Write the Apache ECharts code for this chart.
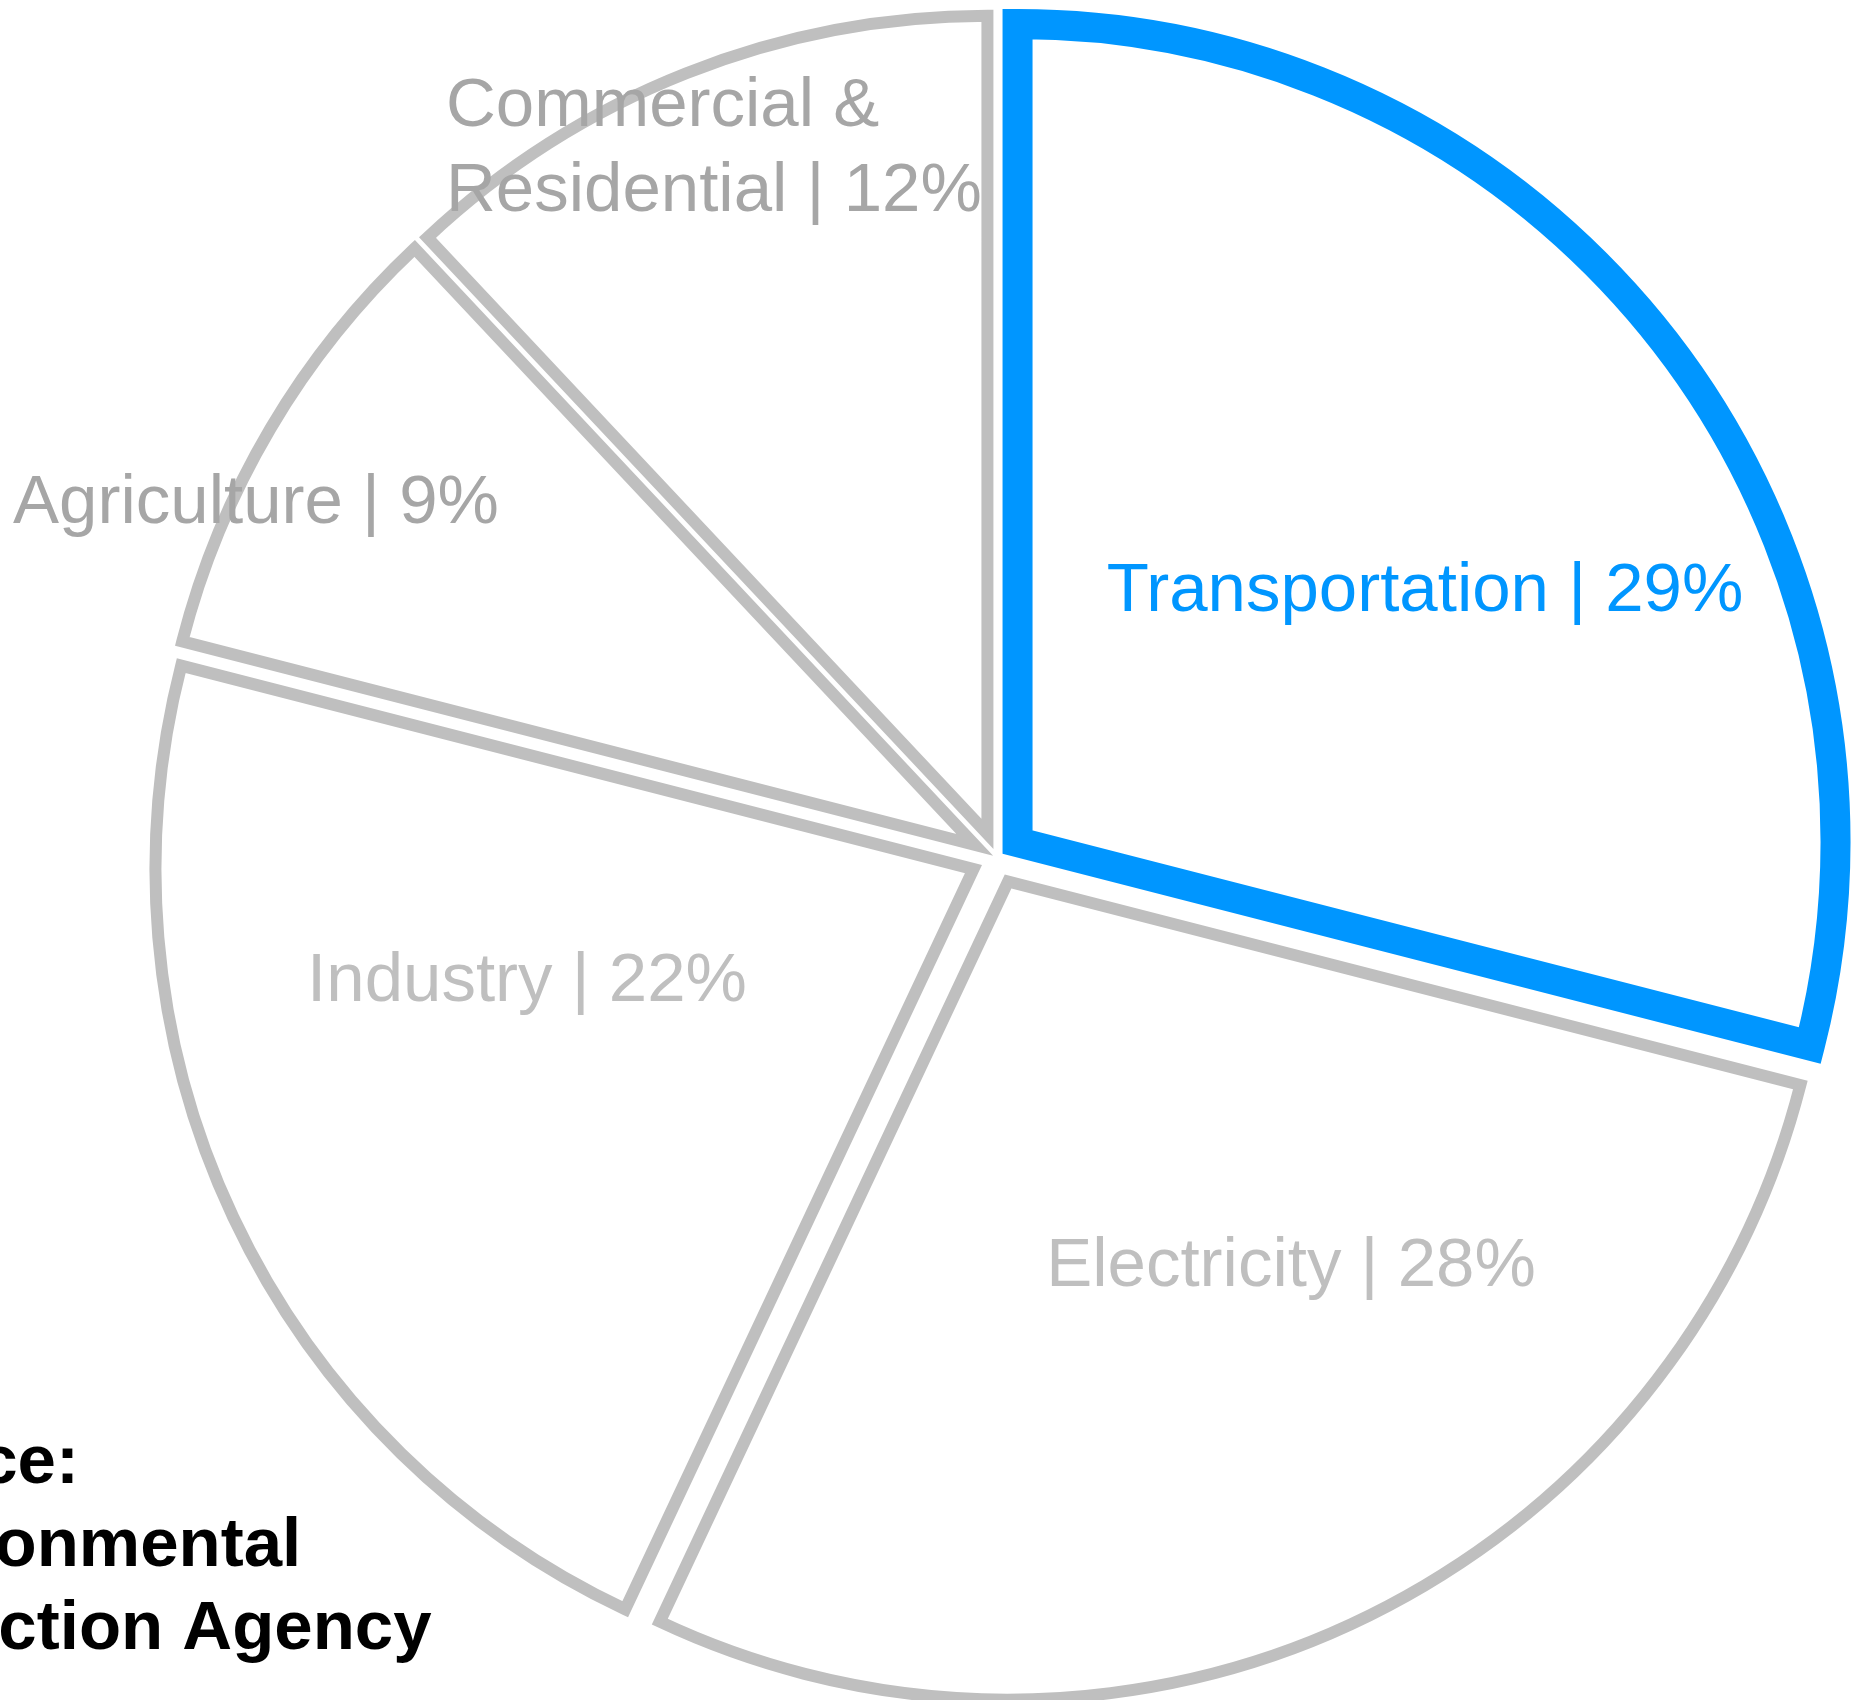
<!DOCTYPE html>
<html>
<head>
<meta charset="utf-8">
<script src="https://cdn.jsdelivr.net/npm/echarts@6/dist/echarts.min.js"></script>
<style>
html,body{margin:0;padding:0;background:#fff;}
#chart{width:1854px;height:1700px;}
</style>
</head>
<body>
<div id="chart"></div>
<script>
// Data
const categories = ['Transportation', 'Electricity', 'Industry', 'Agriculture', 'Commercial &\nResidential'];
const shares = [29, 28, 22, 9, 12];
const sourceText = 'Source:\nEnvironmental\nProtection Agency';

// Styling / layout (not data)
const FONT = 'Arial, "Liberation Sans", Helvetica, sans-serif';
const CX = 997, CY = 858, R = 818;
const BLUE = '#0096FF';
const GRAY = '#BFBFBF';
const strokeColors = [BLUE, GRAY, GRAY, GRAY, GRAY];
const strokeWidths = [30, 12, 12, 12, 12];
const labelColors = [BLUE, '#BFBFBF', '#BFBFBF', '#A6A6A6', '#A6A6A6'];
const labelOffsets = [[428, -266], [294, 409], [-470, 124], [-741, -354], [-551, -709]];
const labelAlign = ['center', 'center', 'center', 'center', 'left'];

const chart = echarts.init(document.getElementById('chart'), null, {renderer: 'canvas'});

const data = categories.map((name, i) => {
  const style = {color: '#FFFFFF', borderColor: strokeColors[i], borderWidth: strokeWidths[i], borderJoin: 'miter'};
  return {
    name: name,
    value: shares[i],
    selected: true,
    itemStyle: style,
    select: {itemStyle: style}
  };
});

const labelTexts = categories.map((name, i) => ({
  type: 'text',
  x: CX + labelOffsets[i][0],
  y: CY + labelOffsets[i][1],
  silent: true,
  z: 100,
  style: {
    text: name + ' | ' + shares[i] + '%',
    fill: labelColors[i],
    font: 'normal 69px ' + FONT,
    lineHeight: 85,
    align: labelAlign[i],
    verticalAlign: 'middle',
    textAlign: labelAlign[i],
    textVerticalAlign: 'middle'
  }
}));

chart.setOption({
  animation: false,
  backgroundColor: '#FFFFFF',
  title: {
    text: sourceText,
    left: -178,
    top: 1422,
    padding: 0,
    textStyle: {fontFamily: FONT, fontSize: 69, fontWeight: 'bold', color: '#000000', lineHeight: 83}
  },
  graphic: labelTexts,
  series: [{
    type: 'pie',
    center: [CX, CY],
    radius: [0, R],
    startAngle: 90,
    clockwise: true,
    selectedMode: 'multiple',
    selectedOffset: 26,
    avoidLabelOverlap: false,
    silent: true,
    emphasis: {disabled: true},
    label: {show: false},
    labelLine: {show: false},
    data: data
  }]
});
</script>
</body>
</html>
